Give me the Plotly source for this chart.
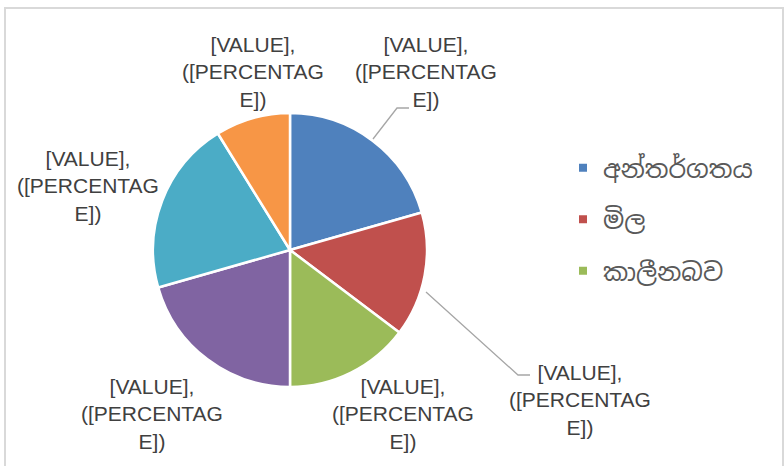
import plotly.graph_objects as go

# ---- data ----
categories = ["අන්තර්ගතය", "මිල", "කාලීනබව", "4", "5", "6"]
values = [7, 5, 5, 7, 7, 3]
colors = ["#4F81BD", "#C0504D", "#9BBB59", "#8064A2", "#4BACC6", "#F79646"]
legend_items = ["අන්තර්ගතය", "මිල", "කාලීනබව"]
label_text = "[VALUE],<br>([PERCENTAG<br>E])"
# label centres in pixels (x, y) as placed in the reference
label_pos = [(426, 72), (580, 400), (403, 414), (152, 414), (88, 186), (253, 72)]

W, H = 784, 466
def px(x):
    return x / W
def py(y):
    return 1 - y / H

fig = go.Figure()
cx, cy, r = 290, 250, 137
fig.add_trace(go.Pie(
    labels=categories, values=values, sort=False, direction="clockwise",
    rotation=0, textinfo="none", hoverinfo="label+value+percent",
    marker=dict(colors=colors, line=dict(color="white", width=2.5)),
    domain=dict(x=[px(cx - r), px(cx + r)], y=[py(cy + r), py(cy - r)]),
    showlegend=False,
))

for i, name in enumerate(legend_items):
    fig.add_trace(go.Scatter(
        x=[None], y=[None], mode="markers", name=name,
        marker=dict(symbol="square", size=8, color=colors[i]),
        legendgroup=name, showlegend=True,
    ))

annotations = []
for (x, y) in label_pos:
    annotations.append(dict(
        x=px(x), y=py(y), xref="paper", yref="paper", text=label_text,
        showarrow=False, xanchor="center", yanchor="middle", align="center",
        font=dict(family="Liberation Sans Narrow, Arial Narrow, sans-serif", size=21, color="#404040"),
    ))

line_col = "#A6A6A6"
shapes = [
    # chart border (left, top, right)
    dict(type="line", xref="paper", yref="paper", x0=px(5), x1=px(5), y0=0, y1=py(7), line=dict(color="#D9D9D9", width=2)),
    dict(type="line", xref="paper", yref="paper", x0=px(4), x1=px(783), y0=py(8), y1=py(8), line=dict(color="#D9D9D9", width=2)),
    dict(type="line", xref="paper", yref="paper", x0=px(783), x1=px(783), y0=0, y1=py(7), line=dict(color="#D9D9D9", width=2)),
    # leader lines
    dict(type="path", xref="paper", yref="paper",
         path=f"M {px(373)} {py(139)} L {px(397)} {py(108)} L {px(409)} {py(108)}",
         line=dict(color=line_col, width=1.3)),
    dict(type="path", xref="paper", yref="paper",
         path=f"M {px(426)} {py(292)} L {px(518)} {py(375)} L {px(530)} {py(375)}",
         line=dict(color=line_col, width=1.3)),
]

fig.update_layout(
    width=W, height=H,
    margin=dict(l=0, r=0, t=0, b=0),
    paper_bgcolor="white", plot_bgcolor="white",
    xaxis=dict(visible=False), yaxis=dict(visible=False),
    annotations=annotations, shapes=shapes,
    legend=dict(x=px(563), y=py(145), xanchor="left", yanchor="top",
                font=dict(family="Noto Sans Sinhala, Noto Sans, DejaVu Sans, sans-serif", size=25, color="#595959"),
                tracegroupgap=16, itemwidth=30, bgcolor="rgba(0,0,0,0)"),
)

fig.write_html("out.html", config={"displayModeBar": False},
               post_script="document.body.style.margin='0';document.body.style.overflow='hidden';")
